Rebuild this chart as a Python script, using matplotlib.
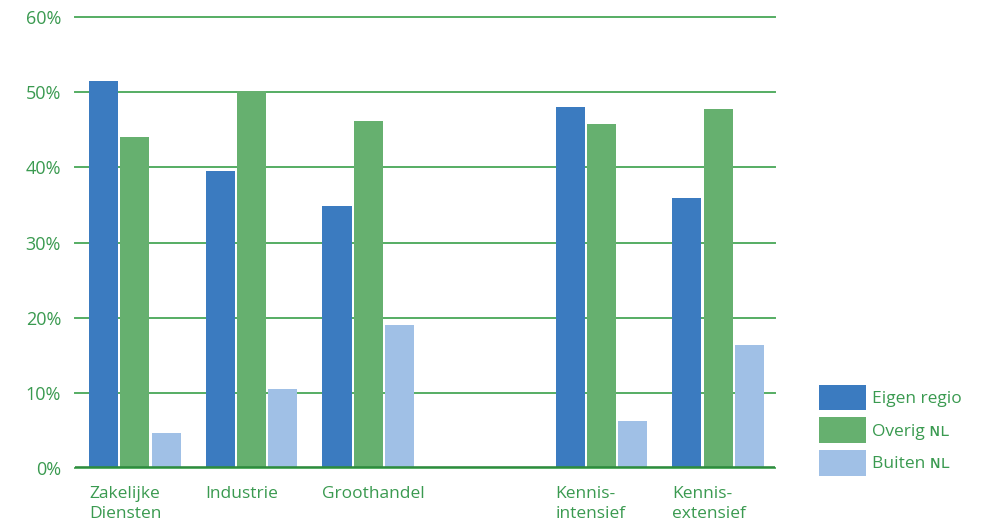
import numpy as np
import matplotlib.pyplot as plt

plt.rcParams['font.family'] = ['Open Sans', 'DejaVu Sans']

# Share of sales per region, by sector (percent)
categories = ['Zakelijke\nDiensten', 'Industrie', 'Groothandel', '',
              'Kennis-\nintensief', 'Kennis-\nextensief']
eigen_regio = [51.5, 39.5, 34.8, np.nan, 48.0, 35.9]
overig_nl = [44.0, 50.1, 46.1, np.nan, 45.7, 47.7]
buiten_nl = [4.6, 10.5, 19.0, np.nan, 6.2, 16.4]
series_labels = ['Eigen regio', 'Overig \u0274\u029f', 'Buiten \u0274\u029f']

colors = ['#3b7bc0', '#66b06f', '#a0c0e6']
text_green = '#3a9a50'

fig = plt.figure(figsize=(9.83, 5.27), dpi=100)
ax = fig.add_axes([75 / 983, 59 / 527, 700 / 983, 451 / 527])

x = np.arange(len(categories))
width = 0.25
gap = 0.018
handles = []
for i, (vals, col) in enumerate(zip([eigen_regio, overig_nl, buiten_nl], colors)):
    b = ax.bar(x - 0.5 + 0.12 + i * (width + gap), vals, width, align='edge',
               color=col, zorder=3)
    handles.append(b)

ax.set_xlim(-0.5, len(categories) - 0.5)
ax.set_ylim(0, 60)
ax.set_yticks(np.arange(0, 61, 10))
ax.set_yticklabels([f'{v}%' for v in range(0, 61, 10)])
ax.yaxis.grid(True, color='#55ad63', linewidth=1.4, zorder=1)
for gl in ax.get_ygridlines():
    gl.set_clip_on(False)
ax.axhline(0, color='#2e8b3e', linewidth=2.6, zorder=4)

for s in ax.spines.values():
    s.set_visible(False)
ax.tick_params(axis='y', length=0, pad=10, labelsize=13, labelcolor=text_green)
ax.set_xticks([])

# category labels, left aligned with the first bar of each group
for xi, lab in zip(x, categories):
    ax.text(xi - 0.5 + 0.12, -2.4, lab, ha='left', va='top', fontsize=12.5,
            color=text_green, linespacing=1.3)

leg = fig.legend(handles, series_labels, loc='upper left',
                 bbox_to_anchor=(803 / 983, 1 - 369 / 527), frameon=False,
                 fontsize=12.5, handlelength=2.75, handleheight=1.9,
                 handletextpad=0.35, labelspacing=0.4, labelcolor=text_green)

fig.savefig('out.png', dpi=100)
